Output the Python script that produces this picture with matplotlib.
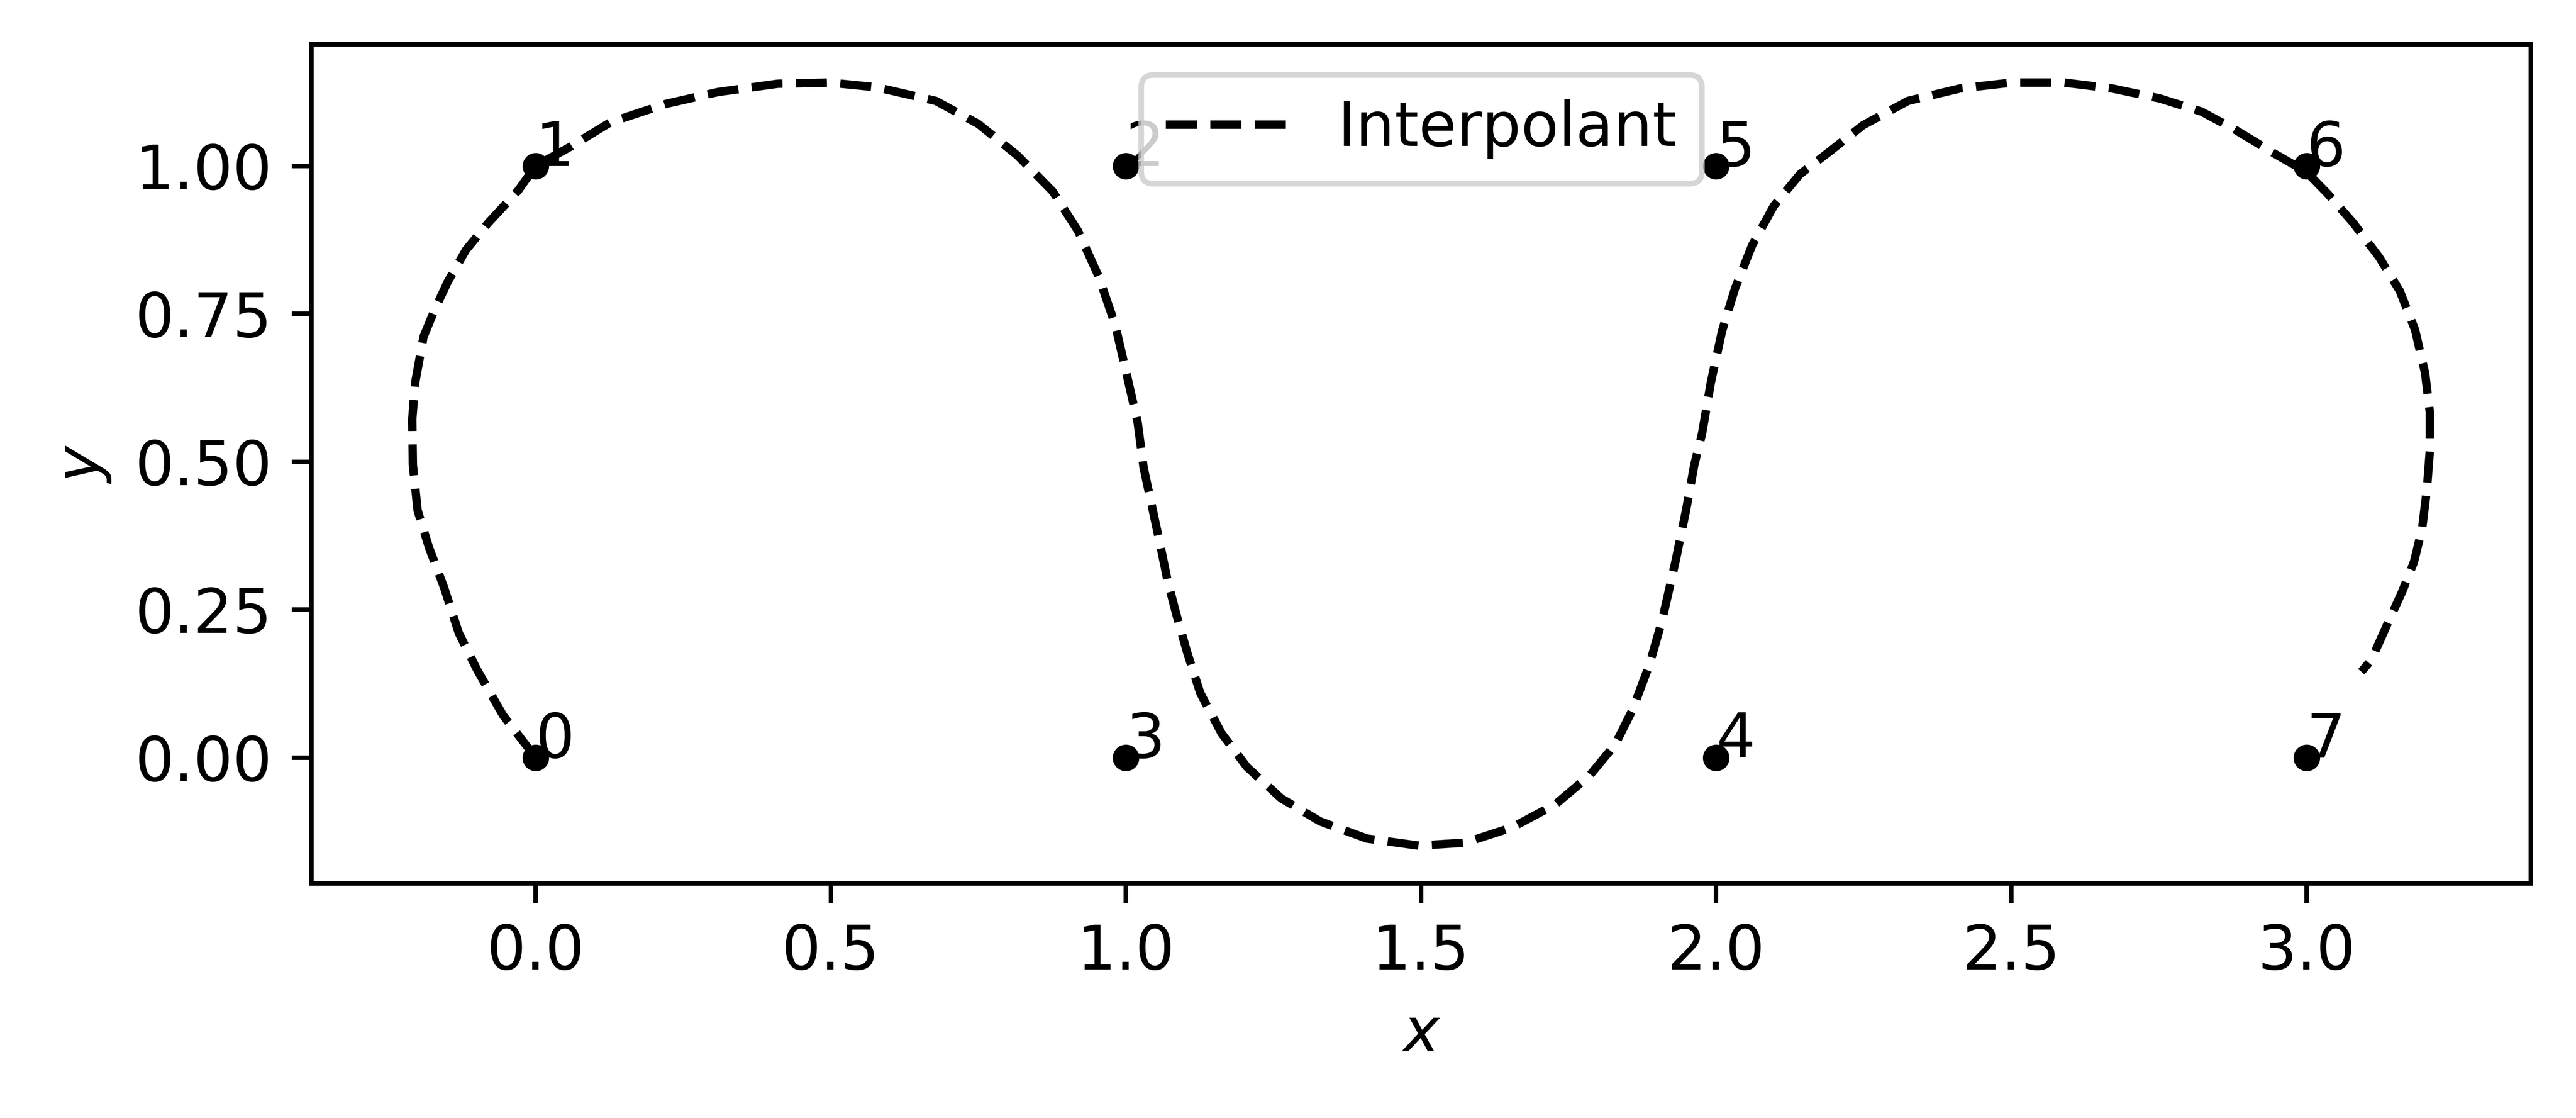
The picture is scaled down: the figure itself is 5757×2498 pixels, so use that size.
import numpy as np
import matplotlib.pyplot as plt

plt.rcParams['font.size'] = 11

# data points (labelled 0..7)
pts_x = [0, 0, 1, 1, 2, 2, 3, 3]
pts_y = [0, 1, 1, 0, 0, 1, 1, 0]

# interpolant curve
curve_x = [0.0, -0.055, -0.099, -0.130, -0.155, -0.181, -0.200, -0.208, -0.209, -0.204,
           -0.190, -0.171, -0.149, -0.118, -0.080, -0.030, 0.0,
           0.058, 0.127, 0.221, 0.309, 0.410, 0.498, 0.578, 0.678, 0.750, 0.816,
           0.876, 0.919, 0.954, 0.982, 1.001, 1.020, 1.030, 1.057, 1.071, 1.086,
           1.104, 1.126, 1.162, 1.205, 1.263, 1.329, 1.408, 1.496, 1.575, 1.655,
           1.728, 1.786, 1.829, 1.858, 1.887, 1.909, 1.931, 1.949, 1.963, 1.976,
           1.991, 2.010, 2.032, 2.061, 2.098, 2.142, 2.193, 2.249, 2.325, 2.413,
           2.501, 2.589, 2.671, 2.752, 2.822, 2.878, 2.949, 3.0, 3.036, 3.079,
           3.123, 3.158, 3.184, 3.201, 3.209, 3.209, 3.204, 3.196, 3.182, 3.162,
           3.136, 3.110, 3.093]
curve_y = [0.0, 0.071, 0.148, 0.210, 0.287, 0.356, 0.418, 0.495, 0.572, 0.634,
           0.711, 0.757, 0.804, 0.858, 0.904, 0.958, 1.0,
           1.032, 1.074, 1.105, 1.125, 1.139, 1.141, 1.133, 1.110, 1.071, 1.018,
           0.957, 0.890, 0.813, 0.731, 0.649, 0.566, 0.490, 0.365, 0.297, 0.240,
           0.177, 0.109, 0.041, -0.016, -0.069, -0.108, -0.137, -0.149, -0.144, -0.118,
           -0.079, -0.030, 0.022, 0.080, 0.157, 0.234, 0.331, 0.418, 0.495, 0.547,
           0.634, 0.721, 0.793, 0.866, 0.933, 0.986, 1.025, 1.069, 1.110, 1.131,
           1.141, 1.141, 1.131, 1.114, 1.092, 1.062, 1.019, 0.990, 0.953, 0.904,
           0.846, 0.789, 0.723, 0.650, 0.584, 0.518, 0.453, 0.387, 0.330, 0.280,
           0.223, 0.165, 0.145]

fig = plt.figure(figsize=(5757 / 900, 2498 / 900), dpi=900)
ax = fig.add_axes([0.1209, 0.2096, 0.9825 - 0.1209, 0.9605 - 0.2096])

ax.scatter(pts_x, pts_y, s=14, color='k')
for i in range(len(pts_x)):
    ax.text(pts_x[i], pts_y[i], str(i))

ax.plot(curve_x, curve_y, 'k--', label='Interpolant')

ax.set_xlim(-0.3798, 3.3803)
ax.set_ylim(-0.2133, 1.2059)
ax.set_xlabel('$x$')
ax.set_ylabel('$y$')
ax.legend(loc='upper center')

fig.savefig('out.png', dpi=900)
